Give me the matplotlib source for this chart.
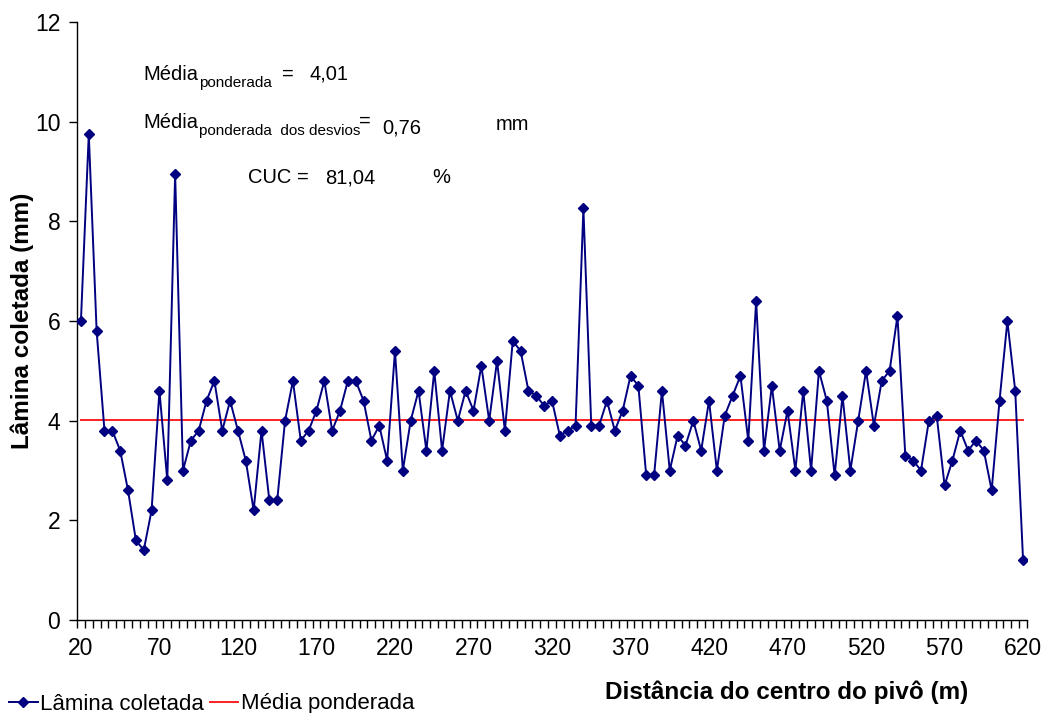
#!/usr/bin/env python3

import matplotlib
matplotlib.use('Agg')
import matplotlib.pyplot as plt
import numpy as np
from matplotlib.lines import Line2D

plt.rcParams['font.family'] = ['Liberation Sans', 'DejaVu Sans']

# distance from the pivot centre (m), one collector every 5 m
distancia = np.arange(20, 625, 5)

# collected depth per collector (mm)
lamina = [
    6.0, 9.75, 5.8, 3.8, 3.8, 3.4, 2.6, 1.6, 1.4, 2.2,
    4.6, 2.8, 8.95, 3.0, 3.6, 3.8, 4.4, 4.8, 3.8, 4.4,
    3.8, 3.2, 2.2, 3.8, 2.4, 2.4, 4.0, 4.8, 3.6, 3.8,
    4.2, 4.8, 3.8, 4.2, 4.8, 4.8, 4.4, 3.6, 3.9, 3.2,
    5.4, 3.0, 4.0, 4.6, 3.4, 5.0, 3.4, 4.6, 4.0, 4.6,
    4.2, 5.1, 4.0, 5.2, 3.8, 5.6, 5.4, 4.6, 4.5, 4.3,
    4.4, 3.7, 3.8, 3.9, 8.26, 3.9, 3.9, 4.4, 3.8, 4.2,
    4.9, 4.7, 2.9, 2.9, 4.6, 3.0, 3.7, 3.5, 4.0, 3.4,
    4.4, 3.0, 4.1, 4.5, 4.9, 3.6, 6.4, 3.4, 4.7, 3.4,
    4.2, 3.0, 4.6, 3.0, 5.0, 4.4, 2.9, 4.5, 3.0, 4.0,
    5.0, 3.9, 4.8, 5.0, 6.1, 3.3, 3.2, 3.0, 4.0, 4.1,
    2.7, 3.2, 3.8, 3.4, 3.6, 3.4, 2.6, 4.4, 6.0, 4.6,
    1.2,
]

media_ponderada = 4.01
media_desvios = '0,76'
cuc = '81,04'

tick_labels = ['20', '70', '120', '170', '220', '270', '320',
               '370', '420', '470', '520', '570', '620']

W, H = 1045, 713
fig = plt.figure(figsize=(W / 100, H / 100), dpi=100)
ax = fig.add_axes([77 / W, 1 - 620 / H, 950 / W, 598 / H])

navy = '#000080'
red = '#FF2020'

ax.plot(distancia, lamina, color=navy, lw=1.4, marker='D', ms=5,
        mec=navy, mfc=navy, zorder=3)
ax.plot(distancia, [media_ponderada] * len(distancia), color=red, lw=1.4, zorder=2)

ax.set_xlim(17.5, 622.5)
ax.set_ylim(0, 12)

# category axis: labels every 10 collectors, marks between categories
ax.set_xticks(distancia[::10])
ax.set_xticklabels(tick_labels)
ax.set_xticks(np.arange(17.5, 625, 5), minor=True)
ax.tick_params(axis='x', which='major', length=0, pad=12, labelsize=16.5)
ax.tick_params(axis='x', which='minor', length=6, width=1, direction='out')

ax.set_yticks(np.arange(0, 13, 2))
ax.tick_params(axis='y', which='major', length=6, width=1, pad=6, labelsize=16.5)

for s in ['top', 'right']:
    ax.spines[s].set_visible(False)
for s in ['left', 'bottom']:
    ax.spines[s].set_linewidth(1)
    ax.spines[s].set_color('black')

ax.set_ylabel('Lâmina coletada (mm)', fontsize=17.5, fontweight='bold')
ax.yaxis.set_label_coords(-43 / 950, 0.5)
fig.text(787 / W, 1 - 692 / H, 'Distância do centro do pivô (m)', fontsize=17.5,
         fontweight='bold', ha='center', va='center')


def txt(x, y, s, size=14.5):
    fig.text(x / W, 1 - y / H, s, fontsize=size, ha='left', va='baseline')


# weighted mean, mean deviation and uniformity coefficient
txt(143, 80, 'Média')
txt(199, 87, 'ponderada', 11)
txt(282, 80, '=')
txt(309, 80, f'{media_ponderada:.2f}'.replace('.', ','))

txt(143, 128, 'Média')
txt(199, 135, 'ponderada  dos desvios', 11)
txt(359, 127, '=')
txt(382, 134, media_desvios)
txt(496, 130, 'mm')

txt(248, 183, 'CUC =')
txt(325, 183, cuc)
txt(432, 183, '%')

handles = [Line2D([], [], color=navy, lw=1.4, marker='D', ms=5),
           Line2D([], [], color=red, lw=1.4)]
fig.legend(handles, ['Lâmina coletada', 'Média ponderada'], loc='center left',
           bbox_to_anchor=(9 / W, 1 - 704 / H), ncol=2, frameon=False,
           fontsize=16, handlelength=1.3, handletextpad=0.1,
           columnspacing=0.25, borderpad=0, borderaxespad=0)

fig.savefig('out.png', dpi=100)
plt.close(fig)
